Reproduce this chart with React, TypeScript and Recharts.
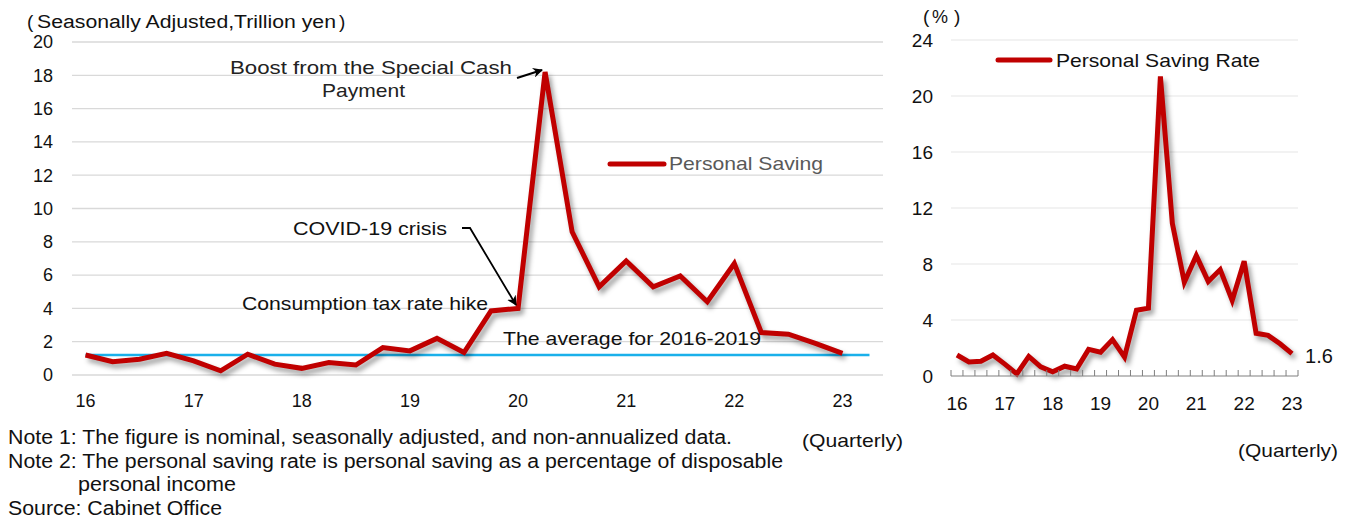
import React from "react";
import { LineChart, Line, XAxis, YAxis, CartesianGrid } from "recharts";

const yearLabels = ["16", "17", "18", "19", "20", "21", "22", "23"];
const savingValues = [
  1.2, 0.8, 0.95, 1.3, 0.85, 0.25, 1.25, 0.65, 0.4, 0.75, 0.6, 1.65, 1.45, 2.2,
  1.35, 3.85, 4.0, 18.2, 8.6, 5.3, 6.85, 5.3, 5.95, 4.4, 6.7, 2.55, 2.45, 1.9, 1.3,
];
const average2016to2019 = 1.2;
const rateValues = [
  1.5, 1.0, 1.05, 1.5, 0.85, 0.15, 1.4, 0.65, 0.3, 0.7, 0.5, 1.9, 1.7, 2.6, 1.35,
  4.7, 4.85, 21.4, 10.9, 6.7, 8.6, 6.75, 7.6, 5.4, 8.2, 3.05, 2.9, 2.3, 1.6,
];
const leftYTicks = [0, 2, 4, 6, 8, 10, 12, 14, 16, 18, 20];
const rightYTicks = [0, 4, 8, 12, 16, 20, 24];

// left chart: 30 category slots (last one empty for the saving series)
const leftData = Array.from({ length: savingValues.length + 1 }, (_, i) => ({
  i,
  saving: i < savingValues.length ? savingValues[i] : null,
  avg: average2016to2019,
}));
const rightData = rateValues.map((v, i) => ({ i, rate: v }));

const yearTicks = yearLabels.map((_, k) => k * 4);
const rightTicks: number[] = [];
for (let k = 0; k <= rateValues.length * 2; k++) rightTicks.push(k / 2 - 0.5);

const FONT = "'Liberation Sans', Arial, sans-serif";
const RED = "#C00000";

const LeftXTick = (props: any) => {
  const { x, y, payload } = props;
  const idx = payload.value / 4;
  return (
    <text x={x} y={y + 32} textAnchor="middle" fontSize={18} fill="#111" fontFamily={FONT}>
      {yearLabels[idx]}
    </text>
  );
};

const RightXTick = (props: any) => {
  const { x, y, payload } = props;
  const v = payload.value;
  if (Number.isInteger(v)) {
    if (v % 4 === 0) {
      return (
        <text x={x} y={y + 34} textAnchor="middle" fontSize={19} fill="#111" fontFamily={FONT}>
          {yearLabels[v / 4]}
        </text>
      );
    }
    return <g />;
  }
  return <line x1={x} x2={x} y1={y} y2={y - 6} stroke="#7f7f7f" strokeWidth={1} />;
};

const LastLabel = (props: any) => {
  const { x, y, index, value } = props;
  if (index !== rateValues.length - 1) return null;
  return (
    <text x={x + 13} y={y + 9} fontSize={20} fill="#111" fontFamily={FONT}>
      {value}
    </text>
  );
};

export default function App() {
  return (
    <div
      style={{
        position: "absolute",
        left: 0,
        top: 0,
        width: 1354,
        height: 522,
        background: "#fff",
        fontFamily: FONT,
      }}
    >
      <style>{`.shadowed .recharts-line-curve{filter:drop-shadow(3px 4px 2.5px rgba(0,0,0,0.38));}`}</style>
      <div style={{ position: "absolute", left: 0, top: 0 }}>
        <LineChart
          width={900}
          height={522}
          data={leftData}
          margin={{ top: 42, right: 17, bottom: 117, left: 12 }}
        >
          <CartesianGrid vertical={false} stroke="#d9d9d9" strokeWidth={1.3} />
          <XAxis
            dataKey="i"
            type="number"
            domain={[-0.5, 29.5]}
            ticks={yearTicks}
            interval={0}
            axisLine={false}
            tickLine={false}
            tickSize={0}
            tickMargin={0}
            height={30}
            tick={<LeftXTick />}
          />
          <YAxis
            domain={[0, 20]}
            ticks={leftYTicks}
            interval={0}
            axisLine={false}
            tickLine={false}
            tickSize={0}
            tickMargin={19}
            width={60}
            tick={{ fontSize: 18, fill: "#111", fontFamily: FONT }}
          />
          <Line
            dataKey="avg"
            stroke="#1ab0ea"
            strokeWidth={2.5}
            dot={false}
            isAnimationActive={false}
          />
          <Line
            className="shadowed"
            dataKey="saving"
            stroke={RED}
            strokeWidth={5}
            dot={false}
            strokeLinejoin="miter"
            isAnimationActive={false}
          />
        </LineChart>
      </div>
      <div style={{ position: "absolute", left: 880, top: 0 }}>
        <LineChart
          width={474}
          height={522}
          data={rightData}
          margin={{ top: 40, right: 56, bottom: 116, left: 21 }}
        >
          <CartesianGrid vertical={false} stroke="#e6e6e6" strokeWidth={1.2} />
          <XAxis
            dataKey="i"
            type="number"
            domain={[-0.5, 28.5]}
            ticks={rightTicks}
            interval={0}
            axisLine={{ stroke: "#8c8c8c", strokeWidth: 1 }}
            tickLine={false}
            tickSize={0}
            tickMargin={0}
            height={30}
            tick={<RightXTick />}
          />
          <YAxis
            domain={[0, 24]}
            ticks={rightYTicks}
            interval={0}
            axisLine={false}
            tickLine={false}
            tickSize={0}
            tickMargin={18}
            width={50}
            tick={{ fontSize: 19, fill: "#111", fontFamily: FONT }}
          />
          <Line
            className="shadowed"
            dataKey="rate"
            stroke={RED}
            strokeWidth={5}
            dot={false}
            isAnimationActive={false}
            label={<LastLabel />}
          />
        </LineChart>
      </div>
      <svg
        width={1354}
        height={522}
        style={{ position: "absolute", left: 0, top: 0, pointerEvents: "none" }}
        fontFamily={FONT}
      >
        <defs>
          <marker id="arr" markerWidth="10" markerHeight="10" refX="9" refY="5" orient="auto" markerUnits="userSpaceOnUse">
            <path d="M0,0 L10,5 L0,10 L3,5 Z" fill="#000" />
          </marker>
        </defs>
        <text x={27} y={28} fontSize={19} fill="#111">(</text>
        <text x={37} y={28} fontSize={18} fill="#111" textLength={299} lengthAdjust="spacingAndGlyphs">
          Seasonally Adjusted,Trillion yen
        </text>
        <text x={339} y={28} fontSize={19} fill="#111">)</text>
        <text x={230} y={74} fontSize={19} fill="#222" textLength={282} lengthAdjust="spacingAndGlyphs">
          Boost from the Special Cash
        </text>
        <text x={322} y={97} fontSize={19} fill="#222" textLength={83} lengthAdjust="spacingAndGlyphs">
          Payment
        </text>
        <path d="M517,78 L542,70" stroke="#000" strokeWidth={2} fill="none" markerEnd="url(#arr)" />
        <text x={293} y={235} fontSize={19} fill="#111" textLength={154} lengthAdjust="spacingAndGlyphs">
          COVID-19 crisis
        </text>
        <path d="M462,228 L470,228 L516,305" stroke="#000" strokeWidth={1.8} fill="none" markerEnd="url(#arr)" />
        <text x={242} y={310} fontSize={19} fill="#111" textLength={246} lengthAdjust="spacingAndGlyphs">
          Consumption tax rate hike
        </text>
        <text x={503} y={345} fontSize={19} fill="#111" textLength={258} lengthAdjust="spacingAndGlyphs">
          The average for 2016-2019
        </text>
        <line x1={610} x2={664} y1={164} y2={164} stroke={RED} strokeWidth={5} strokeLinecap="round" />
        <text x={669} y={170} fontSize={19} fill="#595959" textLength={154} lengthAdjust="spacingAndGlyphs">
          Personal Saving
        </text>
        <text x={802} y={447} fontSize={19} fill="#111" textLength={101} lengthAdjust="spacingAndGlyphs">
          (Quarterly)
        </text>
        <text x={923} y={23} fontSize={19} fill="#111">(</text>
        <text x={932} y={23} fontSize={18} fill="#111">%</text>
        <text x={954} y={23} fontSize={19} fill="#111">)</text>
        <line x1={998} x2={1050} y1={60} y2={60} stroke={RED} strokeWidth={5} strokeLinecap="round" />
        <text x={1056} y={67} fontSize={19} fill="#111" textLength={204} lengthAdjust="spacingAndGlyphs">
          Personal Saving Rate
        </text>
        <text x={1238} y={457} fontSize={19} fill="#111" textLength={100} lengthAdjust="spacingAndGlyphs">
          (Quarterly)
        </text>
        <text x={8} y={444} fontSize={20} fill="#111" textLength={724} lengthAdjust="spacingAndGlyphs">
          Note 1: The figure is nominal, seasonally adjusted, and non-annualized data.
        </text>
        <text x={8} y={468} fontSize={20} fill="#111" textLength={775} lengthAdjust="spacingAndGlyphs">
          Note 2: The personal saving rate is personal saving as a percentage of disposable
        </text>
        <text x={78} y={491} fontSize={20} fill="#111" textLength={158} lengthAdjust="spacingAndGlyphs">
          personal income
        </text>
        <text x={8} y={515} fontSize={20} fill="#111" textLength={214} lengthAdjust="spacingAndGlyphs">
          Source: Cabinet Office
        </text>
      </svg>
    </div>
  );
}
